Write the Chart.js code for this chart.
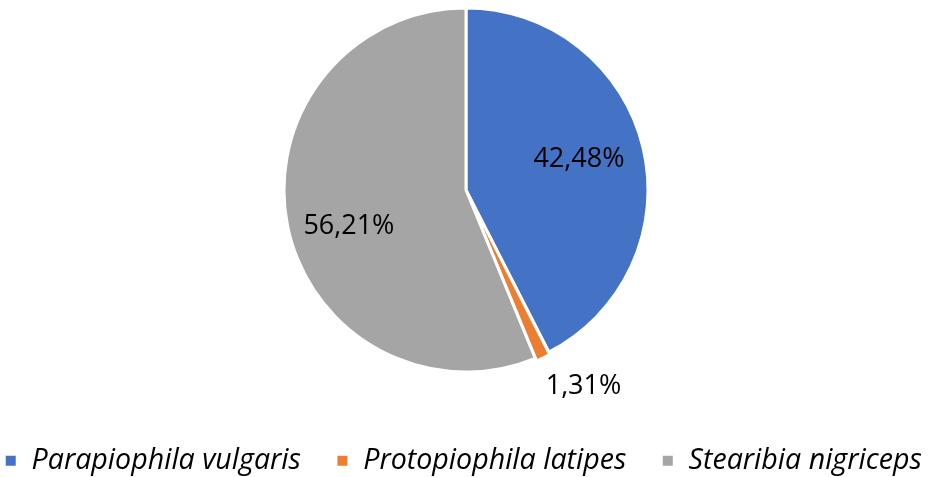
<!DOCTYPE html>
<html>
<head>
<meta charset="utf-8">
<script src="https://cdn.jsdelivr.net/npm/chart.js@4/dist/chart.umd.min.js"></script>
<style>
html,body{margin:0;padding:0;background:#fff;overflow:hidden;}
#wrap{width:932px;height:477px;position:relative;}
</style>
</head>
<body>
<div id="wrap"><canvas id="c" width="932" height="477"></canvas></div>
<script>
const categories = ["Parapiophila vulgaris", "Protopiophila latipes", "Stearibia nigriceps"];
const values = [42.48, 1.31, 56.21];
const valueLabels = ["42,48%", "1,31%", "56,21%"];
const colors = ["#4472C4", "#ED7D31", "#A5A5A5"];

// label placement: fraction of radius along slice mid-angle, plus angle tweak (deg)
const labelPlace = [[0.648, -2.1], [1.26, -6.3], [0.676, -5.7]];

const labelPlugin = {
  id: 'sliceLabels',
  afterDatasetsDraw(chart) {
    const ctx = chart.ctx;
    const meta = chart.getDatasetMeta(0);
    ctx.save();
    ctx.font = '27px "Open Sans", Lato, sans-serif';
    ctx.fillStyle = '#000';
    ctx.textAlign = 'center';
    ctx.textBaseline = 'middle';
    meta.data.forEach((arc, i) => {
      const p = arc.getProps(['x','y','startAngle','endAngle','outerRadius'], true);
      const mid = (p.startAngle + p.endAngle) / 2 + labelPlace[i][1] * Math.PI / 180;
      const r = 181 * labelPlace[i][0];
      const x = p.x + Math.cos(mid) * r;
      const y = p.y + Math.sin(mid) * r;
      ctx.fillText(valueLabels[i], x, y + 1);
    });
    ctx.restore();
  }
};

new Chart(document.getElementById('c'), {
  type: 'pie',
  data: {
    labels: categories,
    datasets: [{
      data: values,
      backgroundColor: colors,
      borderColor: '#ffffff',
      borderWidth: 3,
      offset: [0, 6, 0]
    }]
  },
  options: {
    responsive: false,
    animation: false,
    rotation: 0,
    radius: 182,
    layout: { padding: { top: 0, bottom: -8, left: -61, right: -55 } },
    plugins: {
      tooltip: { enabled: false },
      legend: {
        position: 'bottom',
        title: { display: true, text: '', font: { size: 10 }, padding: { top: 8, bottom: 11.5 } },
        labels: {
          boxWidth: 13,
          boxHeight: 13,
          padding: 35,
          color: '#000',
          font: { family: '"Open Sans", Lato, sans-serif', size: 28.6, style: 'italic' }
        }
      }
    }
  },
  plugins: [labelPlugin]
});
</script>
</body>
</html>
